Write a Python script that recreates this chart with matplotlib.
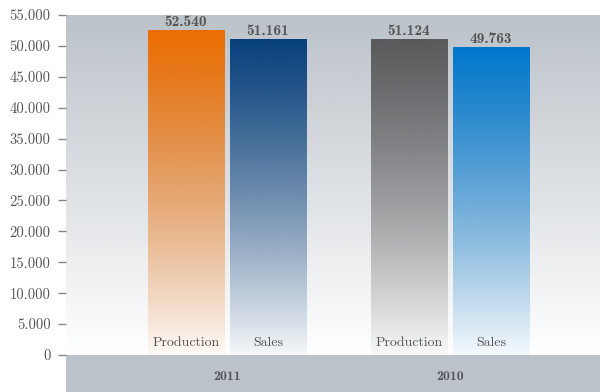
import numpy as np
import matplotlib.pyplot as plt
from matplotlib.colors import to_rgb

# data
years = ["2011", "2010"]
series = ["Production", "Sales"]
production = [52540, 51124]
sales = [51161, 49763]
bar_colors = {"2011": ["#ec6d00", "#063f7c"], "2010": ["#58595b", "#0077cc"]}
yticks = list(range(0, 55001, 5000))

band = "#bbc2c9"
txt = "#555555"

fig = plt.figure(figsize=(6, 3.92), dpi=100)
ax = fig.add_axes([66 / 600, 0, 534 / 600, (392 - 15) / 392])
ymin = -55000 * 37 / 340
ax.set_xlim(-0.722, 1.673)
ax.set_ylim(ymin, 55000)

# background: gray at the top fading to white at the bottom
grad = np.zeros((256, 1, 4))
grad[:, 0, :3] = to_rgb(band)
grad[:, 0, 3] = np.linspace(1, 0, 256)
ax.imshow(grad, extent=[-0.722, 1.673, 0, 55000], aspect="auto", zorder=0, origin="upper")
ax.axhspan(ymin, 0, color=band, zorder=1, lw=0)

def fmt(v):
    return f"{v:,}".replace(",", ".")

offset = 0.184
width = 0.341
for i, year in enumerate(years):
    vals = [production[i], sales[i]]
    for j, name in enumerate(series):
        x = i + (j * 2 - 1) * offset
        bar = ax.bar(x, vals[j], width=width, color="none", lw=0, zorder=2)[0]
        g = np.zeros((256, 1, 4))
        g[:, 0, :3] = to_rgb(bar_colors[year][j])
        g[:, 0, 3] = np.linspace(1, 0.04, 256)
        im = ax.imshow(g, extent=[x - width / 2, x + width / 2, 0, vals[j]],
                       aspect="auto", zorder=2, origin="upper")
        im.set_clip_path(bar)
        ax.text(x, vals[j] + 150, fmt(vals[j]), ha="center", va="bottom",
                family="cmb10", fontsize=11, color=txt, zorder=3)
        ax.text(x, 1000, name, ha="center", va="bottom",
                family="cmr10", fontsize=10, color=txt, zorder=3)
    ax.text(i, ymin * 0.6, year, ha="center", va="center",
            family="cmb10", fontsize=10, color=txt, zorder=3)

ax.set_yticks(yticks)
ax.set_yticklabels([fmt(t) for t in yticks], family="cmr10", fontsize=10.5, color=txt)
ax.tick_params(axis="y", length=6, color="#888888", width=1, pad=5)
ax.set_xticks([])
for s in ax.spines.values():
    s.set_visible(False)

fig.savefig("out.png", dpi=100)
